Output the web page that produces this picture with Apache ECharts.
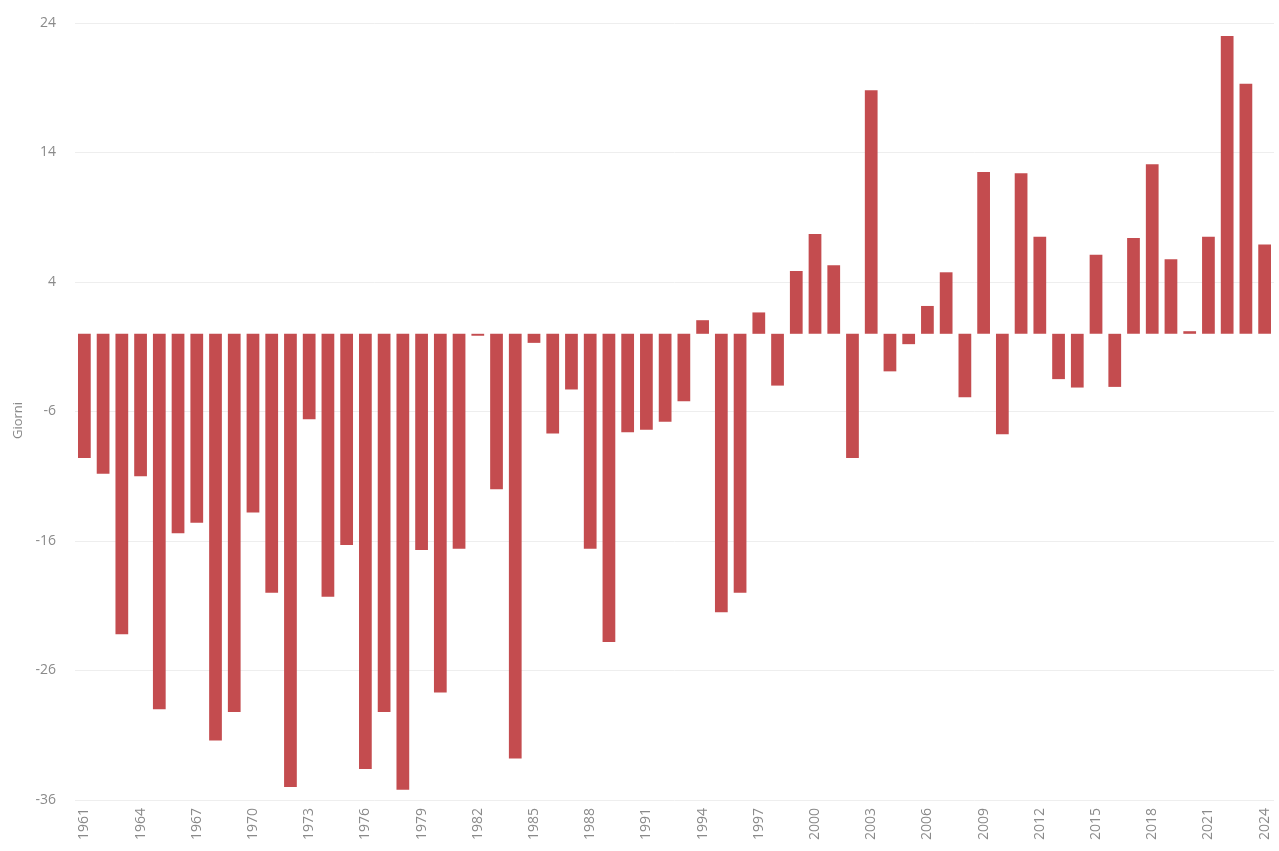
<!DOCTYPE html>
<html>
<head>
<meta charset="utf-8">
<script src="https://cdn.jsdelivr.net/npm/echarts@6/dist/echarts.min.js"></script>
<style>
  html, body { margin: 0; padding: 0; background: #fff; }
  #chart { width: 1279px; height: 851px; }
</style>
</head>
<body>
<div id="chart"></div>
<script>
// Years 1961–2024
const years = [];
for (let y = 1961; y <= 2024; y++) years.push(String(y));

// Anomaly in days per year
const giorni = [
  -9.6, -10.8, -23.2, -11.0, -29.0, -15.4, -14.6, -31.4, -29.2, -13.8,
  -20.0, -35.0, -6.6, -20.3, -16.3, -33.6, -29.2, -35.2, -16.7, -27.7,
  -16.6, -0.15, -12.0, -32.8, -0.7, -7.7, -4.3, -16.6, -23.8, -7.6,
  -7.4, -6.8, -5.2, 1.05, -21.5, -20.0, 1.65, -4.0, 4.85, 7.7,
  5.3, -9.6, 18.8, -2.9, -0.8, 2.15, 4.75, -4.9, 12.5, -7.75,
  12.4, 7.5, -3.5, -4.15, 6.1, -4.1, 7.4, 13.1, 5.75, 0.2,
  7.5, 23.0, 19.3, 6.9
];

// Value axis range and step
const yMin = -36;
const yMax = 24;
const yStep = 10;

const fontFamily = '"Open Sans", "Liberation Sans", Arial, sans-serif';

const chart = echarts.init(document.getElementById('chart'), null, { renderer: 'canvas' });

chart.setOption({
  animation: false,
  backgroundColor: '#ffffff',
  grid: { left: 75, right: 5, top: 23, bottom: 51, containLabel: false },
  xAxis: {
    type: 'category',
    data: years,
    axisLine: { show: false },
    axisTick: { show: false },
    axisLabel: {
      interval: 2,
      rotate: 90,
      color: '#8a8a8a',
      fontSize: 14,
      fontFamily: fontFamily,
      margin: 8
    }
  },
  yAxis: {
    type: 'value',
    name: 'Giorni',
    nameLocation: 'middle',
    nameGap: 48,
    nameTextStyle: {
      color: '#8a8a8a',
      fontSize: 13,
      fontFamily: fontFamily,
      padding: [0, 18, 0, 0]
    },
    min: yMin,
    max: yMax,
    interval: yStep,
    axisLine: { show: false },
    axisTick: { show: false },
    axisLabel: {
      color: '#8a8a8a',
      fontSize: 14,
      fontFamily: fontFamily,
      margin: 19
    },
    splitLine: { lineStyle: { color: '#eeeeee', width: 1 } }
  },
  series: [{
    type: 'bar',
    data: giorni,
    barWidth: '68%',
    itemStyle: { color: '#c44c4f' }
  }]
});
</script>
</body>
</html>
